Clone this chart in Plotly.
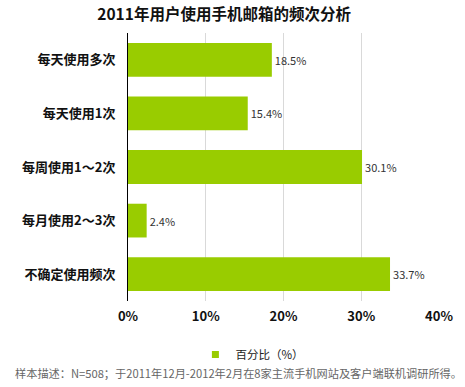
import plotly.graph_objects as go

categories = ["每天使用多次", "每天使用1次", "每周使用1～2次", "每月使用2～3次", "不确定使用频次"]
values = [18.5, 15.4, 30.1, 2.4, 33.7]
tick_vals = [0, 10, 20, 30, 40]
tick_text = ["0%", "10%", "20%", "30%", "40%"]
series_name = "百分比（%）"
title = "2011年用户使用手机邮箱的频次分析"
note = "样本描述：N=508；于2011年12月-2012年2月在8家主流手机网站及客户端联机调研所得。"

FONT = "Noto Sans CJK SC, Noto Sans, sans-serif"
GREEN = "#99cc00"

fig = go.Figure()
fig.add_trace(go.Bar(
    x=values, y=categories, orientation="h",
    marker=dict(color=GREEN, line=dict(width=0)),
    width=0.63,
    text=[f"{v}%" for v in values], textposition="outside",
    textfont=dict(size=11, color="#333333", family=FONT),
    cliponaxis=False,
    name=series_name, showlegend=False,
))
# legend entry with a small square symbol
fig.add_trace(go.Scatter(
    x=[None], y=[None], mode="markers",
    marker=dict(symbol="square", size=7, color=GREEN),
    name=series_name, showlegend=True,
))

fig.update_layout(
    width=465, height=387,
    margin=dict(l=128, r=24, t=33, b=86),
    paper_bgcolor="white", plot_bgcolor="white",
    font=dict(family=FONT, color="#111111"),
    title=dict(text="<b>" + title + "</b>", x=0.482, xanchor="center", y=0.963, yanchor="middle",
               font=dict(size=15.5, color="#111111", family=FONT)),
    xaxis=dict(range=[0, 40], tickvals=tick_vals, ticktext=["<b>" + t + "</b>" for t in tick_text],
               showgrid=True, gridcolor="#d9d9d9", gridwidth=1, zeroline=False,
               showline=False, ticks="", tickfont=dict(size=13, color="#111111", family=FONT),
               ticklabelstandoff=6),
    yaxis=dict(autorange="reversed", showline=True, linecolor="black", linewidth=1,
               tickvals=categories, ticktext=["<b>" + c + "</b>" for c in categories],
               ticks="", tickfont=dict(size=13, color="#111111", family=FONT),
               ticklabelstandoff=9, showgrid=False),
    legend=dict(orientation="h", x=0.4, xanchor="center", y=-0.2, yanchor="middle",
                font=dict(size=11.5, color="#222222", family=FONT), itemwidth=30,
                bgcolor="rgba(0,0,0,0)"),
    bargap=0.37,
)

fig.add_annotation(text=note, xref="paper", yref="paper", x=-0.371, xanchor="left",
                   y=-0.27, yanchor="middle", showarrow=False,
                   font=dict(size=11.2, color="#666666", family=FONT))

fig.write_html("out.html")
